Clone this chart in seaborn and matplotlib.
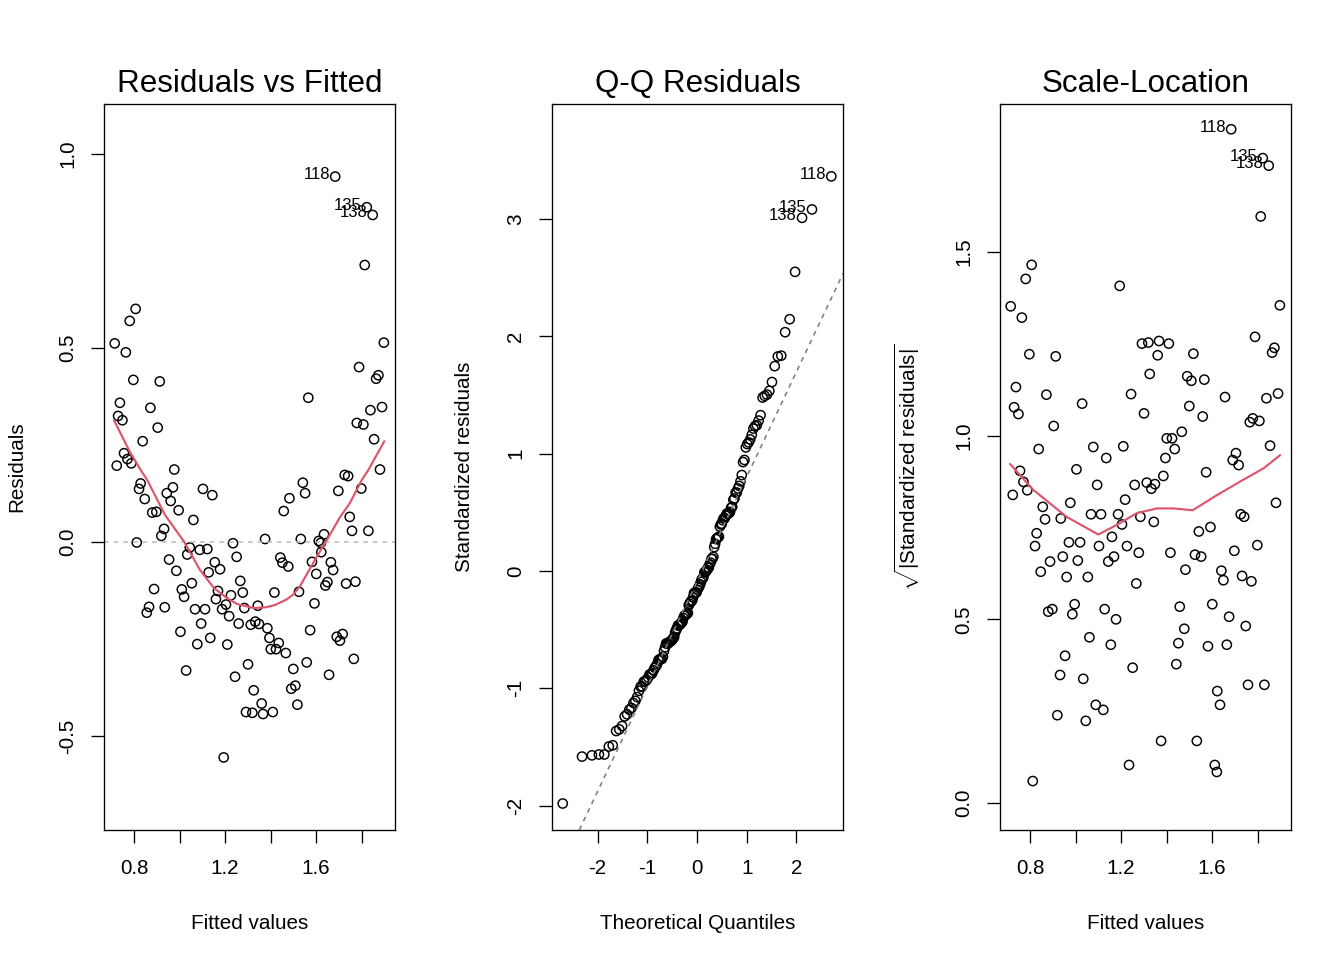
import numpy as np
import pandas as pd
import seaborn as sns
import matplotlib
matplotlib.use("Agg")
import matplotlib.pyplot as plt
from statistics import NormalDist

# fitted values and raw residuals
# (the three flagged observations come first)
point_labels = ["118", "135", "138"]
fitted = [1.684, 1.823, 1.849,
          0.807, 0.781, 0.715, 0.764, 0.797, 0.913, 0.738, 0.872, 0.730, 0.749,
          0.904, 0.838, 0.756, 0.771, 0.788, 0.724, 0.977, 0.829, 0.822, 0.847,
          0.971, 0.944, 0.961, 1.103, 1.144, 0.996, 0.880, 0.898, 1.061, 0.932,
          0.920, 0.812, 1.045, 1.034, 1.089, 1.122, 1.235, 1.251, 0.954, 1.155,
          0.986, 1.128, 1.178, 1.267, 1.054, 0.888, 1.010, 1.020, 1.169, 1.160,
          1.226, 1.278, 1.204, 1.285, 0.866, 0.856, 0.935, 1.068, 1.112, 1.187,
          1.218, 1.344, 1.260, 1.313, 1.095, 1.004, 1.078, 1.135, 1.210, 1.301,
          1.029, 1.726, 1.741, 1.542, 1.552, 1.483, 1.698, 1.799, 1.881, 1.458,
          1.748, 1.758, 1.830, 1.376, 1.533, 1.635, 1.612, 1.621, 1.623, 1.443,
          1.452, 1.478, 1.582, 1.665, 1.675, 1.601, 1.650, 1.641, 1.732, 1.773,
          1.417, 1.525, 1.593, 1.333, 1.349, 1.386, 1.574, 1.395, 1.436, 1.401,
          1.424, 1.467, 1.691, 1.717, 1.705, 1.559, 1.500, 1.766,
          1.814, 1.898, 1.789, 1.874, 1.864, 1.566, 1.839, 1.890, 1.779, 1.808,
          1.855, 1.244, 1.657, 1.326, 1.491, 1.509, 1.361, 1.518, 1.292, 1.320,
          1.367, 1.410, 1.194]
residuals = [0.942, 0.863, 0.843,
             0.601, 0.570, 0.512, 0.489, 0.418, 0.414, 0.359, 0.346, 0.325, 0.314,
             0.295, 0.260, 0.229, 0.214, 0.203, 0.197, 0.187, 0.151, 0.137, 0.111,
             0.141, 0.126, 0.106, 0.137, 0.121, 0.082, 0.076, 0.078, 0.057, 0.034,
             0.016, -0.001, -0.014, -0.032, -0.020, -0.018, -0.003, -0.038, -0.045, -0.052,
             -0.074, -0.078, -0.070, -0.100, -0.106, -0.121, -0.122, -0.141, -0.126, -0.147,
             -0.137, -0.130, -0.161, -0.170, -0.167, -0.182, -0.168, -0.173, -0.173, -0.173,
             -0.191, -0.164, -0.210, -0.213, -0.210, -0.231, -0.263, -0.247, -0.264, -0.315,
             -0.331, 0.173, 0.170, 0.153, 0.126, 0.113, 0.132, 0.138, 0.187, 0.080,
             0.065, 0.029, 0.029, 0.008, 0.008, 0.020, 0.003, -0.002, -0.026, -0.040,
             -0.053, -0.063, -0.051, -0.052, -0.072, -0.082, -0.103, -0.112, -0.107, -0.102,
             -0.130, -0.128, -0.158, -0.205, -0.211, -0.222, -0.227, -0.247, -0.260, -0.276,
             -0.276, -0.286, -0.244, -0.237, -0.254, -0.310, -0.327, -0.301,
             0.714, 0.514, 0.451, 0.430, 0.421, 0.372, 0.340, 0.348, 0.307, 0.303,
             0.265, -0.347, -0.342, -0.382, -0.378, -0.370, -0.416, -0.419, -0.438, -0.440,
             -0.443, -0.438, -0.555]

# residual scale (ratio residual / standardized residual)
sigma = 0.280

# red smoother, residuals vs fitted
smooth1_x = [0.712, 0.782, 0.829, 0.858, 0.936, 1.020, 1.090, 1.152, 1.210, 1.254,
             1.327, 1.380, 1.420, 1.470, 1.500, 1.530, 1.603, 1.647, 1.705, 1.749,
             1.801, 1.830, 1.900]
smooth1_y = [0.314, 0.232, 0.186, 0.160, 0.070, 0.001, -0.072, -0.119, -0.145, -0.160,
             -0.170, -0.168, -0.162, -0.148, -0.135, -0.113, -0.038, 0.005, 0.064, 0.101,
             0.160, 0.186, 0.260]

# red smoother, scale-location
smooth3_x = [0.712, 0.815, 0.961, 1.100, 1.181, 1.269, 1.357, 1.430, 1.515, 1.621,
             1.723, 1.826, 1.899]
smooth3_y = [0.923, 0.852, 0.779, 0.731, 0.757, 0.789, 0.802, 0.802, 0.797, 0.838,
             0.875, 0.911, 0.947]

RED = "#DF536B"

df = pd.DataFrame({"fitted": fitted, "resid": residuals})
n = len(df)
df["std"] = df["resid"] / sigma
df["sqrt_abs"] = np.sqrt(np.abs(df["std"]))
rank = df["std"].rank(method="first").to_numpy()
nd = NormalDist()
df["theo"] = [nd.inv_cdf((r - 0.5) / n) for r in rank]

sns.set_style("ticks")
plt.rcParams["font.family"] = ["Liberation Sans", "DejaVu Sans"]
plt.rcParams["mathtext.fontset"] = "custom"
plt.rcParams["mathtext.rm"] = "Liberation Sans"
plt.rcParams["mathtext.it"] = "Liberation Sans:italic"
plt.rcParams["axes.edgecolor"] = "black"
plt.rcParams["axes.linewidth"] = 1.0
for key in ["text.color", "axes.labelcolor", "xtick.color", "ytick.color",
            "xtick.labelcolor", "ytick.labelcolor"]:
    plt.rcParams[key] = "black"

fig = plt.figure(figsize=(14, 10), dpi=96)
W, H = 1344, 960


def box(x0, x1, y0=104, y1=830):
    return [x0 / W, 1 - y1 / H, (x1 - x0) / W, (y1 - y0) / H]


ax1 = fig.add_axes(box(104, 395))
ax2 = fig.add_axes(box(552, 843))
ax3 = fig.add_axes(box(1000, 1291))


def points(ax, x, y):
    sns.scatterplot(x=x, y=y, ax=ax, marker="o", s=48, facecolor="none",
                    edgecolor="black", linewidth=1.1, legend=False)
    ax.collections[-1].set_facecolor("none")


def flag(ax, x, y):
    for k, lab in enumerate(point_labels):
        ax.annotate(lab, (x[k], y[k]), xytext=(-4.0, 1.5), textcoords="offset points",
                    ha="right", va="center", fontsize=12.5, color="black")


def style(ax, title, xlabel, ylabel):
    ax.set_title(title, fontsize=23.5, pad=9, color="black")
    ax.set_xlabel(xlabel, fontsize=15.5, labelpad=27, color="black")
    ax.set_ylabel(ylabel, fontsize=15.5, labelpad=24, color="black")
    ax.tick_params(direction="out", length=10, width=1, labelsize=15.5,
                   color="black", labelcolor="black")
    ax.tick_params(axis="x", pad=12)
    ax.tick_params(axis="y", pad=10)
    for lbl in ax.get_yticklabels():
        lbl.set_rotation(90)
        lbl.set_va("center")
    for s in ax.spines.values():
        s.set_visible(True)
    ax.grid(False)


fit_ticks = [0.8, 1.0, 1.2, 1.4, 1.6, 1.8]
fit_tick_labels = ["0.8", "", "1.2", "", "1.6", ""]

# panel 1: residuals vs fitted
ax1.axhline(0, color="#BEBEBE", ls=(0, (3, 3)), lw=1.2)
points(ax1, df["fitted"], df["resid"])
sns.lineplot(x=smooth1_x, y=smooth1_y, ax=ax1, color=RED, lw=1.6, sort=False,
             estimator=None)
flag(ax1, df["fitted"], df["resid"])
ax1.set_xlim(0.668, 1.947)
ax1.set_ylim(-0.742, 1.129)
ax1.set_xticks(fit_ticks)
ax1.set_xticklabels(fit_tick_labels)
ax1.set_yticks([-0.5, 0.0, 0.5, 1.0])
ax1.set_yticklabels(["-0.5", "0.0", "0.5", "1.0"])
style(ax1, "Residuals vs Fitted", "Fitted values", "Residuals")

# panel 2: normal Q-Q
q25, q75 = np.quantile(df["std"], [0.25, 0.75])
z25, z75 = nd.inv_cdf(0.25), nd.inv_cdf(0.75)
ax2.axline((z25, q25), slope=(q75 - q25) / (z75 - z25), color="#7F7F7F",
           ls=(0, (3, 3)), lw=1.2)
points(ax2, df["theo"], df["std"])
flag(ax2, df["theo"], df["std"])
ax2.set_xlim(-2.915, 2.935)
ax2.set_ylim(-2.208, 3.981)
ax2.set_xticks([-2, -1, 0, 1, 2])
ax2.set_xticklabels(["-2", "-1", "0", "1", "2"])
ax2.set_yticks([-2, -1, 0, 1, 2, 3])
ax2.set_yticklabels(["-2", "-1", "0", "1", "2", "3"])
style(ax2, "Q-Q Residuals", "Theoretical Quantiles", "Standardized residuals")

# panel 3: scale-location
points(ax3, df["fitted"], df["sqrt_abs"])
sns.lineplot(x=smooth3_x, y=smooth3_y, ax=ax3, color=RED, lw=1.6, sort=False,
             estimator=None)
flag(ax3, df["fitted"], df["sqrt_abs"])
ax3.set_xlim(0.668, 1.947)
ax3.set_ylim(-0.0735, 1.903)
ax3.set_xticks(fit_ticks)
ax3.set_xticklabels(fit_tick_labels)
ax3.set_yticks([0.0, 0.5, 1.0, 1.5])
ax3.set_yticklabels(["0.0", "0.5", "1.0", "1.5"])
style(ax3, "Scale-Location", "Fitted values",
      r"$\sqrt{|\mathrm{Standardized\ residuals}|}$")

fig.savefig("out.png", dpi=96)
